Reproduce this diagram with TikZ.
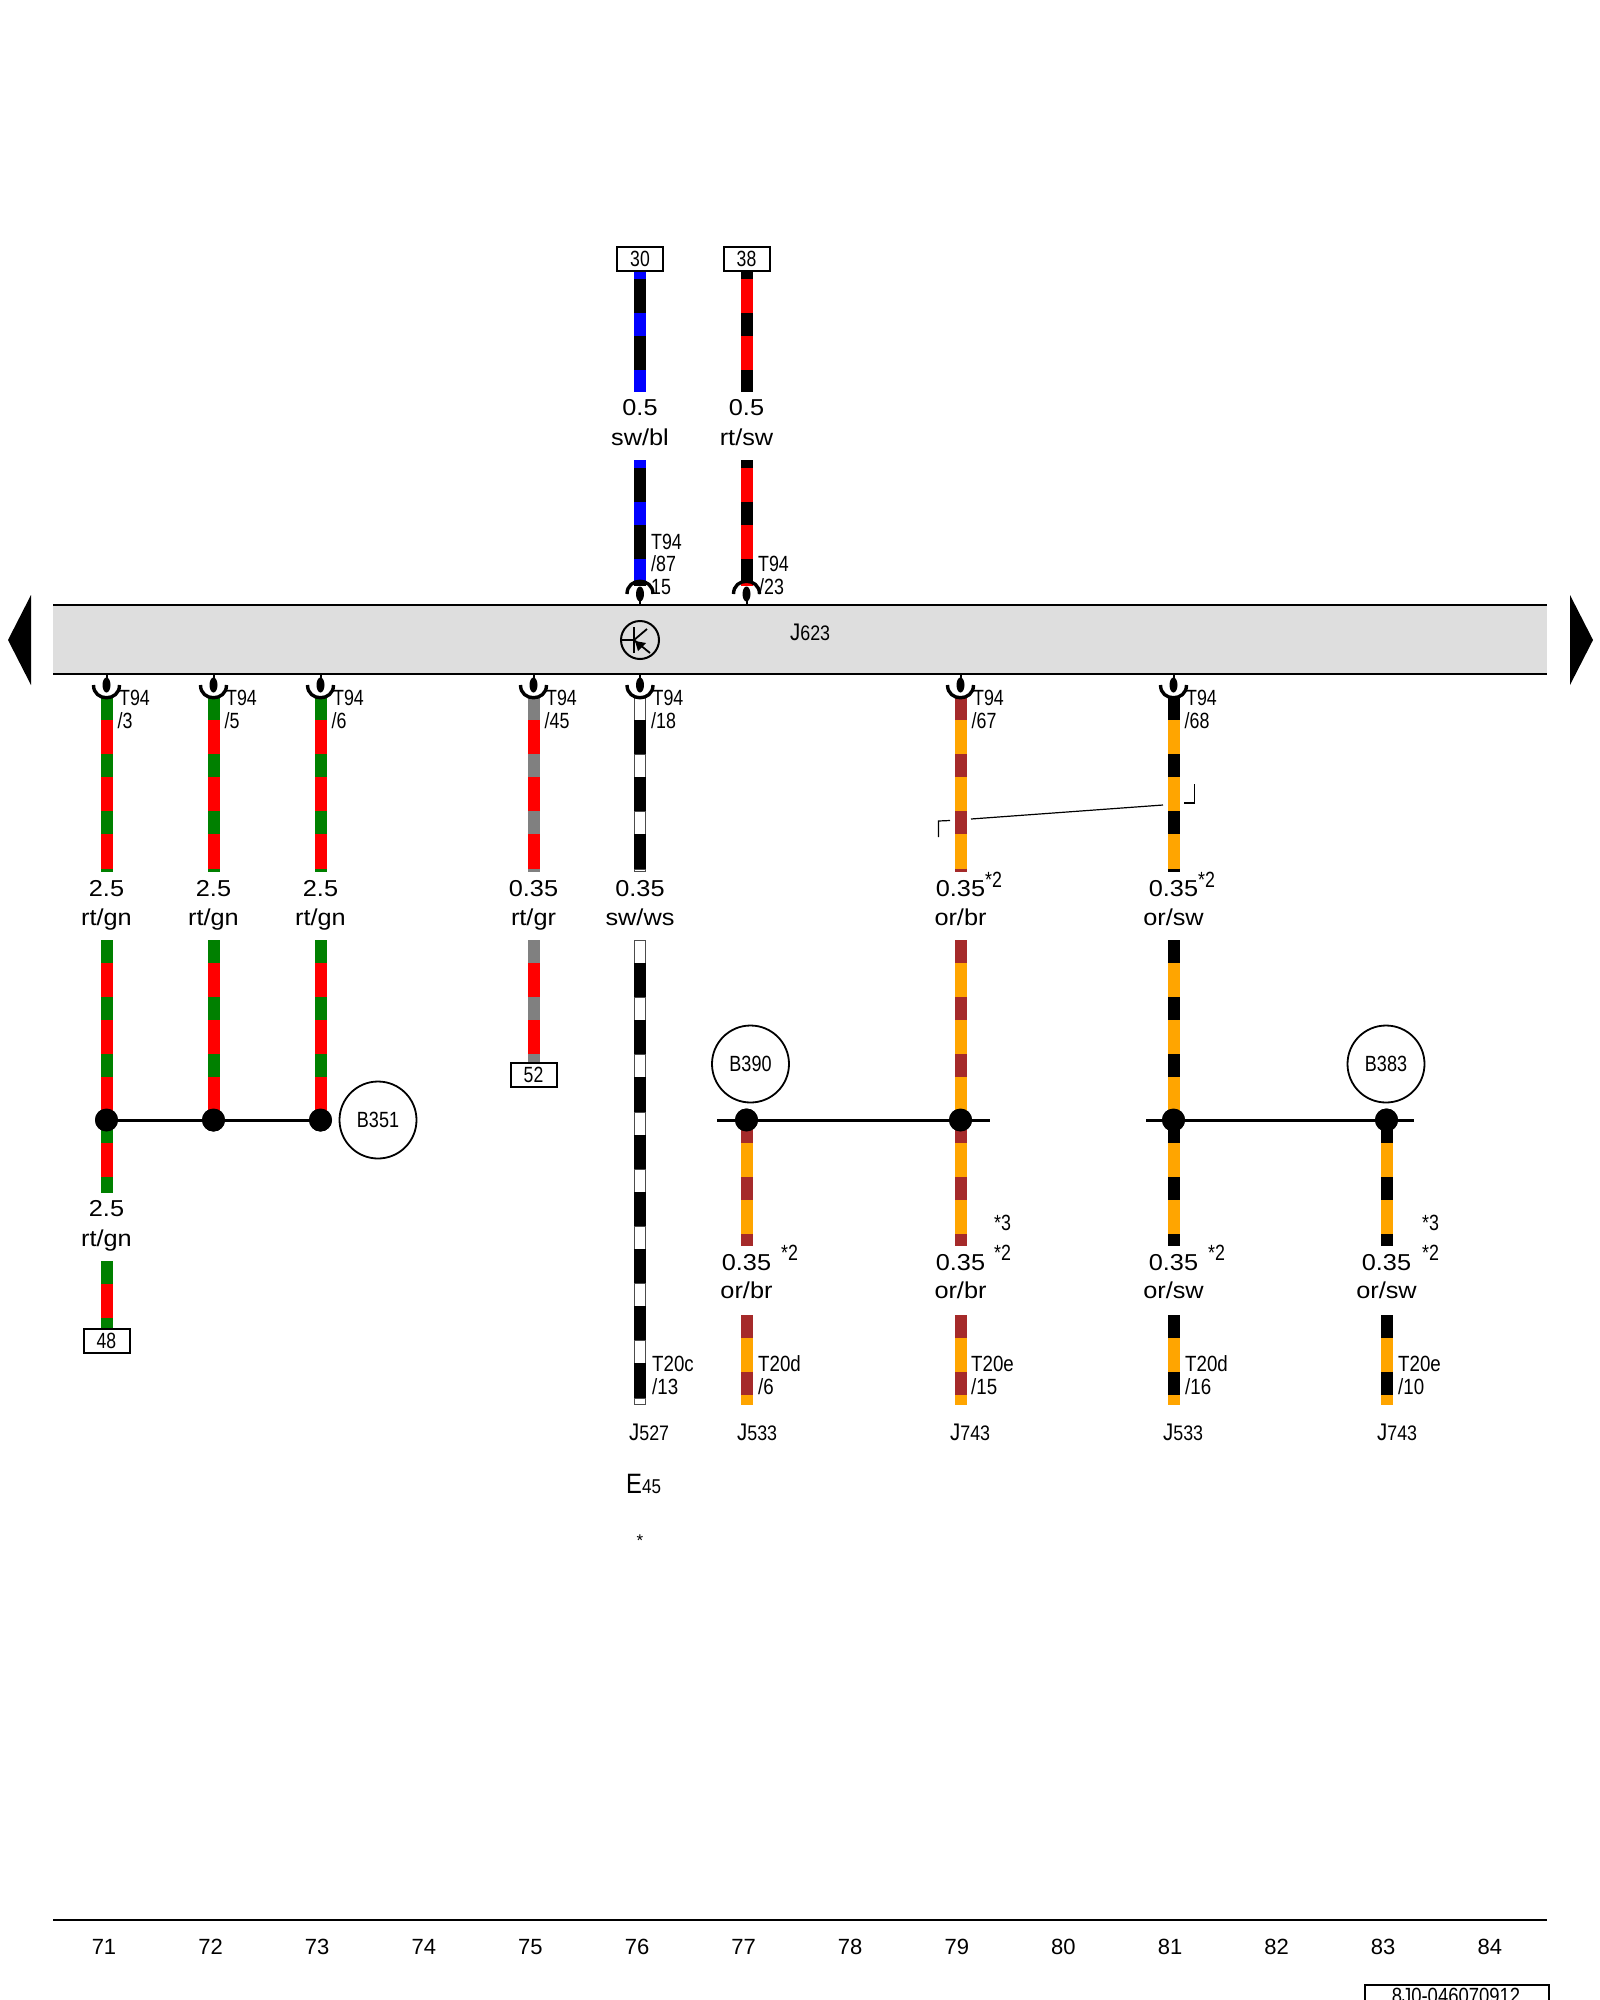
\documentclass[tikz,border=0pt]{standalone}
\usepackage{fontspec}
\setmainfont{Liberation Sans}
\usepackage{tikz}
\usetikzlibrary{calc}

\definecolor{wgreen}{RGB}{0,128,0}
\definecolor{wred}{RGB}{255,0,0}
\definecolor{wblue}{RGB}{0,0,255}
\definecolor{wgray}{RGB}{128,128,128}
\definecolor{worange}{RGB}{255,165,0}
\definecolor{wbrown}{RGB}{165,42,42}
\definecolor{modgray}{RGB}{222,222,222}

\tikzset{
	wire/.style n args={3}{draw=#1,line width=12pt,postaction={draw=#2,dash pattern=on 23pt off 34.2pt,dash phase=#3}},
	whitewire/.style={draw=black!70,line width=12pt,postaction={draw=black,line width=12pt,dash pattern=on 34.2pt off 23pt,dash phase=34.2pt},postaction={draw=white,line width=10pt,shorten <=1pt,shorten >=1pt,dash pattern=on 22pt off 35.2pt,dash phase=#1}},
	bar/.style={line width=2.4pt},
	gauge/.style={font=\fontsize{23}{23}\selectfont,xscale=1.1,anchor=base,inner sep=0pt},
	pinlab/.style={font=\fontsize{22}{22}\selectfont,xscale=.81,anchor=base west,inner sep=0pt},
	conlab/.style={font=\fontsize{22}{22}\selectfont,xscale=.85,anchor=base west,inner sep=0pt},
	devlab/.style={font=\fontsize{24}{24}\selectfont,xscale=.85,anchor=base west,inner sep=0pt},
	term/.style={draw,line width=2pt,minimum width=46pt,minimum height=24pt,inner sep=0pt,font=\fontsize{22}{22}\selectfont},
	splice/.style={draw,line width=1.8pt,circle,minimum size=77pt,inner sep=0pt,font=\fontsize{22}{22}\selectfont},
	joint/.style={fill=black,circle,minimum size=23pt,inner sep=0pt},
	colnum/.style={font=\fontsize{22}{22}\selectfont,anchor=base,inner sep=0pt},
	lugdown/.pic={
		\draw[line width=2pt] (0,0) -- (0,6);
		\fill (0,11) ellipse [x radius=4,y radius=7.5];
		\draw[line width=3.4pt] (-13,11) .. controls (-13,28) and (13,28) .. (13,11);
	},
	lugup/.pic={
		\draw[line width=2pt] (0,0) -- (0,-6);
		\fill (0,-11) ellipse [x radius=4,y radius=7.5];
		\draw[line width=3.4pt] (-13,-11) .. controls (-13,-28) and (13,-28) .. (13,-11);
	}
}

\begin{document}
\begin{tikzpicture}[x=1pt,y=-1pt]
\useasboundingbox (0,0) rectangle (1600,2000);
\clip (0,0) rectangle (1600,2000);

% control unit
\fill[modgray] (53,605) rectangle (1547,674);
\draw[bar] (53,605) coordinate (modtl) -- (1547,605) coordinate (modtr);
\draw[bar] (53,674) coordinate (modbl) -- (1547,674) coordinate (modbr);
\fill (8,640) -- (31,595) -- (31,685) -- cycle;
\fill (1593,640) -- (1570,595) -- (1570,685) -- cycle;
\node[devlab] (J623) at (790,640) {J\fontsize{21}{21}\selectfont 623};

% transistor
\node[draw,circle,line width=2pt,minimum size=38pt,inner sep=0pt] (trans) at (640,640) {};
\draw[line width=1.8pt] (trans.west) -- (634,640) coordinate (base);
\draw[line width=2pt] (634,627) -- (634,653);
\draw[line width=1.8pt] (base) -- (647,629);
\draw[line width=1.8pt] (base) -- (650,653);
\fill (635,641) -- (646,643) -- (638,651) -- cycle;

% terminals
\node[term] (t30) at (640,259) {\scalebox{.8}[1]{30}};
\node[term] (t38) at (746.5,259) {\scalebox{.8}[1]{38}};
\node[term] (t48) at (106.5,1341) {\scalebox{.8}[1]{48}};
\node[term] (t52) at (533.5,1074.5) {\scalebox{.8}[1]{52}};

% top wires
\coordinate (a30) at (640,392);
\coordinate (a38) at (746.5,392);
\coordinate (b30) at (640,460);
\coordinate (b38) at (746.5,460);
\coordinate (p15) at (640,586);
\coordinate (p23) at (746.5,586);
\draw[wire={black}{wblue}{16}] (t30.south) -- (a30);
\draw[wire={wred}{black}{16}] (t38.south) -- (a38);
\draw[wire={black}{wblue}{15}] (b30) -- (p15);
\draw[wire={wred}{black}{15}] (b38) -- (p23);
\pic at (640,605) {lugup};
\pic at (746.5,605) {lugup};
\node[gauge] (g30) at (640,415) {0.5};
\node[gauge] (c30) at (640,445) {sw/bl};
\node[gauge] (g38) at (746.5,415) {0.5};
\node[gauge] (c38) at (746.5,445) {rt/sw};
\node[pinlab] (pa15) at (651,549) {T94};
\node[pinlab] (pb15) at (651,571) {/87};
\node[pinlab] (pc15) at (651,594) {15};
\node[pinlab] (pa23) at (758,571) {T94};
\node[pinlab] (pb23) at (759,594) {/23};

% wires under the unit
\foreach \x/\n/\pin/\cola/\colb/\gg/\cc in {
	106.5/a/3/wred/wgreen/2.5/{rt/gn},
	213.5/b/5/wred/wgreen/2.5/{rt/gn},
	320.5/c/6/wred/wgreen/2.5/{rt/gn},
	533.5/d/45/wred/wgray/0.35/{rt/gr},
	960.5/f/67/worange/wbrown/0.35/{or/br},
	1173.5/g/68/worange/black/0.35/{or/sw}}{
	\coordinate (top\n) at (\x,697);
	\coordinate (mid\n) at (\x,872);
	\draw[wire={\cola}{\colb}{0}] (top\n) -- (mid\n);
	\pic at (\x,674) {lugdown};
	\node[gauge] (gg\n) at (\x,896) {\gg};
	\node[gauge] (cc\n) at (\x,925) {\cc};
	\node[pinlab] (pt\n) at ($(\x,705)+(12.5,0)$) {T94};
	\node[pinlab] (pn\n) at ($(\x,728)+(11,0)$) {/\pin};
}
% sw/ws wire
\coordinate (tope) at (640,697);
\coordinate (mide) at (640,872);
\coordinate (lowe) at (640,940);
\coordinate (ende) at (640,1405);
\draw[whitewire=0] (tope) -- (mide);
\draw[whitewire=0] (lowe) -- (ende);
\pic at (640,674) {lugdown};
\node[gauge] (gge) at (640,896) {0.35};
\node[gauge] (cce) at (640,925) {sw/ws};
\node[pinlab] (pte) at (652.5,705) {T94};
\node[pinlab] (pne) at (651,728) {/18};

% middle part down to the joints
\foreach \x/\n/\cola/\colb in {
	106.5/a/wred/wgreen,
	213.5/b/wred/wgreen,
	320.5/c/wred/wgreen,
	960.5/f/worange/wbrown,
	1173.5/g/worange/black}{
	\coordinate (low\n) at (\x,940);
	\node[joint] (j\n) at (\x,1120) {};
}
\draw[wire={wred}{wgreen}{0}] (lowa) -- (ja.center);
\draw[wire={wred}{wgreen}{0}] (lowb) -- (jb.center);
\draw[wire={wred}{wgreen}{0}] (lowc) -- (jc.center);
\draw[wire={worange}{wbrown}{0}] (lowf) -- (jf.center);
\draw[wire={worange}{black}{0}] (lowg) -- (jg.center);
\coordinate (lowd) at (533.5,940);
\draw[wire={wred}{wgray}{0}] (lowd) -- (t52.north);

\node[joint] (jh) at (746.5,1120) {};
\node[joint] (ji) at (1386.5,1120) {};
\coordinate (jl) at (717,1120);
\coordinate (jr) at (990,1120);
\coordinate (kl) at (1146,1120);
\coordinate (kr) at (1414,1120);

% below the joints
\foreach \x/\n/\cola/\colb/\cc in {
	746.5/h/worange/wbrown/{or/br},
	960.5/f/worange/wbrown/{or/br},
	1173.5/g/worange/black/{or/sw},
	1386.5/i/worange/black/{or/sw}}{
	\coordinate (dn\n) at (\x,1246);
	\coordinate (up\n) at (\x,1315);
	\coordinate (end\n) at (\x,1405);
	\draw[wire={\cola}{\colb}{0}] (j\n.center) -- (dn\n);
	\draw[wire={\cola}{\colb}{0}] (up\n) -- (end\n);
	\node[gauge] (hh\n) at (\x,1270) {0.35};
	\node[gauge] (ii\n) at (\x,1298) {\cc};
}
\coordinate (dna) at (106.5,1193);
\coordinate (upa) at (106.5,1261);
\draw[wire={wred}{wgreen}{0}] (ja.center) -- (dna);
\draw[wire={wred}{wgreen}{0}] (upa) -- (t48.north);
\node[gauge] (hha) at (106.5,1216) {2.5};
\node[gauge] (iia) at (106.5,1246) {rt/gn};

% joint bars
\draw[line width=3pt] (ja.center) -- (jc.center);
\draw[line width=3pt] (jl) -- (jr);
\draw[line width=3pt] (kl) -- (kr);
\foreach \n in {a,b,c,f,g,h,i}{
	\fill (j\n) circle (11.5);
}
\node[splice] (B351) at (378,1120) {\scalebox{.82}[1]{B351}};
\node[splice] (B390) at (750.5,1064) {\scalebox{.82}[1]{B390}};
\node[splice] (B383) at (1386,1064) {\scalebox{.82}[1]{B383}};

% shield
\coordinate (sa) at (938.5,837);
\coordinate (sb) at (938.5,821);
\coordinate (sc) at (950,820.5);
\coordinate (sd) at (971,819);
\coordinate (se) at (1163,805);
\coordinate (sf) at (1184,803);
\coordinate (sg) at (1194.5,803);
\coordinate (sh) at (1194.5,784);
\draw[line width=1.2pt] (sa) -- (sb) -- (sc);
\draw[line width=1.2pt] (sd) -- (se);
\draw[line width=1.2pt] (sf) -- (sg) -- (sh);

% footnote marks
\node[pinlab] (m1) at (985,887) {*2};
\node[pinlab] (m2) at (1198,887) {*2};
\node[pinlab] (m3) at (781,1260) {*2};
\node[pinlab] (m4) at (994,1260) {*2};
\node[pinlab] (m5) at (994,1230) {*3};
\node[pinlab] (m6) at (1208,1260) {*2};
\node[pinlab] (m7) at (1422,1260) {*2};
\node[pinlab] (m8) at (1422,1230) {*3};

% connector pins and devices
\node[conlab] (q1) at (652,1371) {T20c};
\node[conlab] (q2) at (652,1394) {/13};
\node[conlab] (q3) at (758,1371) {T20d};
\node[conlab] (q4) at (758,1394) {/6};
\node[conlab] (q5) at (971,1371) {T20e};
\node[conlab] (q6) at (971,1394) {/15};
\node[conlab] (q7) at (1185,1371) {T20d};
\node[conlab] (q8) at (1185,1394) {/16};
\node[conlab] (q9) at (1398,1371) {T20e};
\node[conlab] (q10) at (1398,1394) {/10};
\node[devlab] (J527) at (629,1440) {J\fontsize{21}{21}\selectfont 527};
\node[devlab] (J533a) at (737,1440) {J\fontsize{21}{21}\selectfont 533};
\node[devlab] (J743a) at (950,1440) {J\fontsize{21}{21}\selectfont 743};
\node[devlab] (J533b) at (1163,1440) {J\fontsize{21}{21}\selectfont 533};
\node[devlab] (J743b) at (1377,1440) {J\fontsize{21}{21}\selectfont 743};
\node[devlab,font=\fontsize{28}{28}\selectfont] (E45) at (626,1493) {E\fontsize{20}{20}\selectfont 45};
\node[font=\fontsize{17}{17}\selectfont,inner sep=0pt] (astk) at (640,1541) {*};

% footer
\draw[bar] (53,1920) coordinate (fl) -- (1547,1920) coordinate (fr);
\foreach \i [evaluate=\i as \xx using 104+106.6*(\i-71)] in {71,...,84}{
	\node[colnum] (n\i) at (\xx,1954) {\i};
}
\node[draw,line width=2pt,minimum width=184pt,minimum height=40pt,inner sep=0pt,anchor=north west] (docbox) at (1364,1984) {};
\node[font=\fontsize{22}{22}\selectfont,xscale=.84,anchor=base,inner sep=0pt] (doc) at (1456,2003) {8J0-046070912};
\end{tikzpicture}
\end{document}
